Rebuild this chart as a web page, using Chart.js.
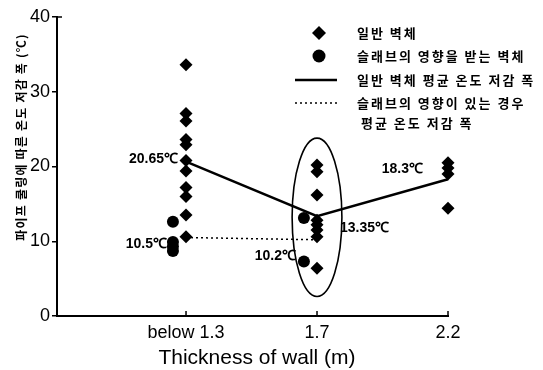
<!DOCTYPE html>
<html><head><meta charset="utf-8">
<script src="https://cdn.jsdelivr.net/npm/chart.js@4/dist/chart.umd.min.js"></script>
<style>html,body{margin:0;padding:0;background:#fff;}#wrap{width:543px;height:370px;}</style>
</head><body><div id="wrap"><canvas id="c" width="543" height="370"></canvas></div>
<script>
const categories = ['below 1.3', '1.7', '2.2'];
const generalWall = [
  [33.6, 27.1, 26.1, 23.6, 22.9, 20.8, 19.4, 17.2, 16.0, 13.5, 10.6],
  [20.2, 19.3, 16.2, 12.8, 12.2, 11.5, 10.6, 6.4],
  [20.5, 19.8, 19.0, 14.4]
];
const slabWall = [
  [12.6, 9.9, 9.3, 8.7],
  [13.1, 7.3],
  []
];
const generalMean = [20.65, 13.35, 18.3];
const slabMean = [10.5, 10.2];
const yTicks = [0, 10, 20, 30, 40];
const legendLabels = ['일반 벽체', '슬래브의 영향을 받는 벽체', '일반 벽체 평균 온도 저감 폭', '슬래브의 영향이 있는 경우', '평균 온도 저감 폭'];
const yTitle = '파이프 쿨링에 따른 온도 저감 폭 (℃)';
const xTitle = 'Thickness of wall (m)';
const unit = '℃';

const SLAB_OFFSET = -0.1;
const KFONT = '"Noto Sans CJK KR", "Noto Sans", sans-serif';
const AFONT = '"Liberation Sans", Arial, sans-serif';

const diamondPts = [];
generalWall.forEach((arr, i) => arr.forEach(v => diamondPts.push({x: i, y: v})));
const circlePts = [];
slabWall.forEach((arr, i) => arr.forEach(v => circlePts.push({x: i + SLAB_OFFSET, y: v})));

const annot = {
  id: 'annot',
  afterDraw(chart) {
    const ctx = chart.ctx;
    const xs = chart.scales.x, ys = chart.scales.y;
    const X = v => xs.getPixelForValue(v), Y = v => ys.getPixelForValue(v);
    ctx.save();
    ctx.strokeStyle = '#000'; ctx.fillStyle = '#000';
    ctx.lineWidth = 1.5;
    categories.forEach((c, i) => {
      ctx.beginPath(); ctx.moveTo(X(i), Y(0)); ctx.lineTo(X(i), Y(0) - 5); ctx.stroke();
    });
    ctx.beginPath(); ctx.moveTo(X(xs.min), Y(40)); ctx.lineTo(X(xs.min) + 5, Y(40)); ctx.stroke();
    // ellipse around 1.7
    const ex = X(1), ey = Y(13.2);
    const rx = X(1.19) - X(1), ry = Y(13.2) - Y(23.8);
    ctx.lineWidth = 1.6;
    ctx.beginPath(); ctx.ellipse(ex, ey, rx, ry, 0, 0, Math.PI * 2); ctx.stroke();
    // value annotations
    ctx.font = 'bold 14px ' + AFONT;
    ctx.textBaseline = 'middle';
    const lab = (txt, px, py, align) => { ctx.textAlign = align; ctx.fillText(txt, px, py); };
    lab(generalMean[0] + unit, X(0) - 8, Y(generalMean[0]) - 3, 'right');
    lab(slabMean[0] + unit, X(0) - 19, Y(slabMean[0]) + 7, 'right');
    lab(slabMean[1] + unit, X(1) - 21, Y(slabMean[1]) + 16, 'right');
    lab(generalMean[1] + unit, X(1) + 23, Y(generalMean[1]) + 12, 'left');
    lab(generalMean[2] + unit, X(2) - 25, Y(generalMean[2]) - 10, 'right');
    // legend
    ctx.font = 'bold 13px ' + KFONT;
    ctx.letterSpacing = '2px';
    ctx.textAlign = 'left';
    const tx = 357;
    ctx.beginPath(); ctx.moveTo(319, 26); ctx.lineTo(326, 33); ctx.lineTo(319, 40); ctx.lineTo(312, 33); ctx.closePath(); ctx.fill();
    ctx.fillText(legendLabels[0], tx, 33);
    ctx.beginPath(); ctx.arc(319, 56, 6.5, 0, Math.PI * 2); ctx.fill();
    ctx.fillText(legendLabels[1], tx, 56);
    ctx.lineWidth = 2.5;
    ctx.beginPath(); ctx.moveTo(295, 80); ctx.lineTo(337, 80); ctx.stroke();
    ctx.fillText(legendLabels[2], tx, 80);
    ctx.lineWidth = 1.5; ctx.setLineDash([2, 3]);
    ctx.beginPath(); ctx.moveTo(295, 103); ctx.lineTo(337, 103); ctx.stroke();
    ctx.setLineDash([]);
    ctx.fillText(legendLabels[3], tx, 103);
    ctx.fillText(legendLabels[4], 361, 123);
    // y title
    ctx.save();
    ctx.translate(21, 137); ctx.rotate(-Math.PI / 2);
    ctx.font = 'bold 12px ' + KFONT;
    ctx.letterSpacing = '1.2px';
    ctx.textAlign = 'center';
    ctx.fillText(yTitle, 0, 0);
    ctx.restore();
    // x title
    ctx.letterSpacing = '0px';
    ctx.font = '21px ' + AFONT;
    ctx.textAlign = 'center';
    ctx.fillText(xTitle, 257, 358);
    ctx.restore();
  }
};

new Chart(document.getElementById('c'), {
  type: 'scatter',
  data: {
    datasets: [
      { data: generalMean.map((v, i) => ({x: i, y: v})), showLine: true, borderColor: '#000', borderWidth: 2.5, pointRadius: 0, order: 3, clip: false },
      { data: slabMean.map((v, i) => ({x: i, y: v})), showLine: true, borderColor: '#000', borderWidth: 1.5, borderDash: [2, 3], pointRadius: 0, order: 4, clip: false },
      { data: diamondPts, pointStyle: 'rectRot', pointRadius: 6.5, backgroundColor: '#000', borderColor: '#000', borderWidth: 0, order: 1, clip: false },
      { data: circlePts, pointStyle: 'circle', pointRadius: 6, backgroundColor: '#000', borderColor: '#000', borderWidth: 0, order: 2, clip: false }
    ]
  },
  options: {
    responsive: false, animation: false, devicePixelRatio: 1,
    layout: { padding: { left: 0, right: 95, top: 17, bottom: 0 } },
    plugins: { legend: { display: false }, tooltip: { enabled: false } },
    scales: {
      x: {
        type: 'linear', min: -0.985, max: 2,
        afterBuildTicks: s => { s.ticks = categories.map((c, i) => ({value: i})); },
        ticks: { callback: v => categories[v], color: '#000', font: { family: AFONT, size: 18 }, padding: 6, maxRotation: 0, autoSkip: false },
        grid: { drawOnChartArea: false, drawTicks: false },
        border: { color: '#000', width: 2 },
        afterFit: s => { s.height = 54; }
      },
      y: {
        min: 0, max: 40,
        afterBuildTicks: s => { s.ticks = yTicks.map(v => ({value: v})); },
        ticks: { color: '#000', font: { family: AFONT, size: 18 }, padding: 2 },
        grid: { drawOnChartArea: false, tickLength: 5, color: '#000', lineWidth: 1.5 },
        border: { color: '#000', width: 2 },
        afterFit: s => { s.width = 57; }
      }
    }
  },
  plugins: [annot]
});
</script></body></html>
